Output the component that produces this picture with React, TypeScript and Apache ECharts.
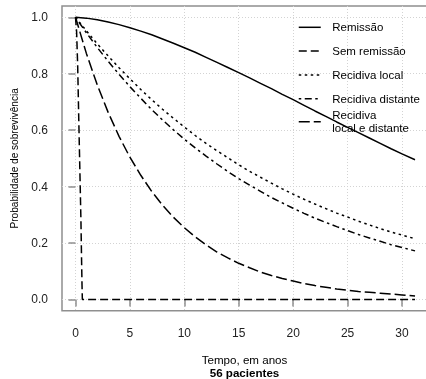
import React, { useEffect, useRef } from "react";
import * as echarts from "echarts";

// time points (years)
const years = [0, 1, 2, 3, 4, 5, 6, 7, 8, 9, 10, 11, 12, 13, 14, 15, 16, 17, 18, 19, 20, 21, 22, 23, 24, 25, 26, 27, 28, 29, 30, 31.2];
const remissao = [1, 0.997, 0.991, 0.983, 0.974, 0.963, 0.951, 0.938, 0.923, 0.908, 0.892, 0.876, 0.858, 0.84, 0.822, 0.804, 0.785, 0.766, 0.747, 0.727, 0.708, 0.688, 0.668, 0.649, 0.629, 0.61, 0.591, 0.572, 0.553, 0.534, 0.516, 0.495];
const recidivaLocal = [1, 0.952, 0.906, 0.863, 0.821, 0.782, 0.744, 0.708, 0.674, 0.642, 0.611, 0.581, 0.553, 0.527, 0.502, 0.477, 0.454, 0.433, 0.412, 0.392, 0.373, 0.355, 0.338, 0.322, 0.306, 0.292, 0.277, 0.264, 0.251, 0.239, 0.228, 0.215];
const recidivaDistante = [1, 0.945, 0.893, 0.844, 0.798, 0.754, 0.713, 0.673, 0.636, 0.601, 0.568, 0.537, 0.508, 0.48, 0.453, 0.428, 0.405, 0.383, 0.361, 0.342, 0.323, 0.305, 0.288, 0.273, 0.258, 0.244, 0.23, 0.218, 0.206, 0.194, 0.184, 0.172];
const localDistante = [1, 0.872, 0.76, 0.663, 0.578, 0.504, 0.44, 0.383, 0.334, 0.291, 0.254, 0.222, 0.193, 0.168, 0.147, 0.128, 0.112, 0.097, 0.085, 0.074, 0.065, 0.056, 0.049, 0.043, 0.037, 0.033, 0.028, 0.025, 0.022, 0.019, 0.016, 0.012];
// "Sem remissão" drops almost immediately
const semRemissaoYears = [0, 0.1, 0.2, 0.3, 0.4, 0.5, 0.55, 0.6, 0.63, 31.2];
const semRemissao = [1, 0.95, 0.83, 0.64, 0.46, 0.28, 0.16, 0.05, 0.0, 0.0];

const xTicks = [0, 5, 10, 15, 20, 25, 30];
const yTicks = [0, 0.2, 0.4, 0.6, 0.8, 1.0];

const seriesNames = ["Remissão", "Sem remissão", "Recidiva local", "Recidiva distante", "Recidiva local e distante"];

const FONT = "Liberation Sans, Arial, Helvetica, sans-serif";
const AXIS_COLOR = "#8f8f8f";

function pairs(xs: number[], ys: number[]) {
  return xs.map((x, i) => [x, ys[i]]);
}

export default function App() {
  const ref = useRef<HTMLDivElement>(null);
  useEffect(() => {
    document.body.style.margin = "0";
    const chart = echarts.init(ref.current!, null, { renderer: "svg" });
    const lineBase = { color: "#000", width: 1.5 };
    const mk = (name: string, data: number[][], type: any) => ({
      name,
      type: "line",
      data,
      symbol: "none",
      smooth: false,
      lineStyle: { ...lineBase, type },
      itemStyle: { color: "#000" },
      z: 3,
    });
    const legendCommon = {
      orient: "vertical",
      left: 298,
      padding: 0,
      itemWidth: 22,
      itemHeight: 14,
      selectedMode: false,
      itemStyle: { opacity: 0, color: "transparent", borderWidth: 0 },
      lineStyle: { width: 1.5, color: "#000" },
    };
    chart.setOption({
      animation: false,
      textStyle: { fontFamily: FONT },
      grid: {
        left: 62,
        top: 6,
        right: -1,
        bottom: 68.3,
        containLabel: false,
        outerBoundsMode: "none",
        show: true,
        borderColor: AXIS_COLOR,
        borderWidth: 1.5,
        backgroundColor: "transparent",
      },
      xAxis: {
        type: "value",
        min: -1.24,
        max: 32.3,
        axisLine: { show: false },
        axisTick: { show: true, customValues: xTicks, length: 7, lineStyle: { color: AXIS_COLOR, width: 1.5 } },
        axisLabel: { customValues: xTicks, color: "#222", fontSize: 12, fontFamily: FONT, margin: 16 },
        splitLine: { show: true, lineStyle: { color: "#d3d3d3", type: [1, 2], width: 1 } },
        name: "{a|Tempo, em anos}\n{b|56 pacientes}",
        nameLocation: "middle",
        nameGap: 43,
        nameTextStyle: {
          rich: {
            a: { fontSize: 11.6, lineHeight: 12.5, color: "#000", fontFamily: FONT },
            b: { fontSize: 11.6, lineHeight: 12.5, fontWeight: "bold", color: "#000", fontFamily: FONT },
          },
        },
      },
      yAxis: {
        type: "value",
        min: -0.04,
        max: 1.04,
        axisLine: { show: false },
        axisTick: { show: true, customValues: yTicks, length: 7, lineStyle: { color: AXIS_COLOR, width: 1.5 } },
        axisLabel: {
          customValues: yTicks,
          color: "#222",
          fontSize: 12,
          fontFamily: FONT,
          margin: 14,
          formatter: (v: number) => v.toFixed(1),
        },
        splitLine: { show: true, lineStyle: { color: "#d3d3d3", type: [1, 2], width: 1 } },
        name: "Probabilidade de sobrevivência",
        nameLocation: "middle",
        nameGap: 43,
        nameTextStyle: { fontSize: 10.1, color: "#000", fontFamily: FONT },
      },
      legend: [
        {
          ...legendCommon,
          data: seriesNames.slice(0, 4),
          top: 20.3,
          itemGap: 9.8,
          textStyle: { fontSize: 11.5, color: "#000", fontFamily: FONT, padding: [0, 0, 0, 6.5], lineHeight: 14 },
        },
        {
          ...legendCommon,
          data: seriesNames.slice(4),
          top: 108.4,
          formatter: (n: string) => n.replace("Recidiva ", "Recidiva\n"),
          textStyle: { fontSize: 11.5, color: "#000", fontFamily: FONT, padding: [0, 0, 0, 6.5], lineHeight: 13.3 },
        },
      ],
      series: [
        mk(seriesNames[0], pairs(years, remissao), "solid"),
        mk(seriesNames[1], pairs(semRemissaoYears, semRemissao), [8, 4]),
        mk(seriesNames[2], pairs(years, recidivaLocal), [2.5, 3.5]),
        mk(seriesNames[3], pairs(years, recidivaDistante), [2.5, 3.5, 7, 3.5]),
        mk(seriesNames[4], pairs(years, localDistante), [11, 4]),
      ],
    });
    return () => chart.dispose();
  }, []);
  return <div ref={ref} style={{ position: "fixed", left: 0, top: 0, width: 426, height: 379 }} />;
}
